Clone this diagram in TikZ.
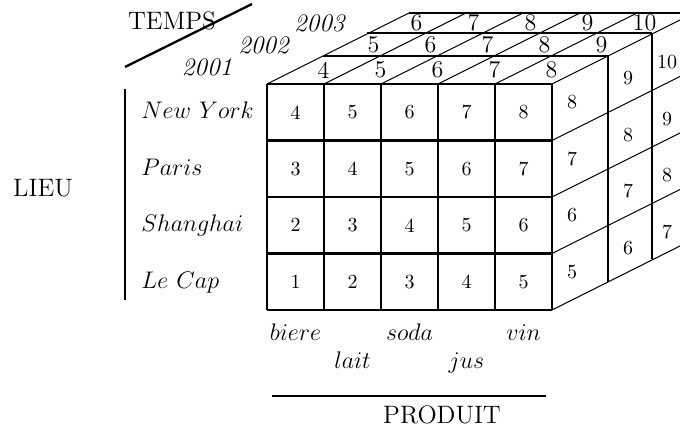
\documentclass[tikz,border=0pt]{standalone}
\usepackage{amsmath}
\usepackage{tikz}
\tikzset{thickline/.style={line width=1.15pt},
thinline/.style={line width=0.5pt},
%numbers on the faces
cellnum/.style={font=\normalsize, inner sep=0pt},
topnum/.style={font=\large, inner sep=0pt},
axistext/.style={font=\fontsize{12.6}{15}\selectfont, inner sep=0pt}}

\begin{document}
\begin{tikzpicture}[x=0.5pt,y=-0.5pt]
\clip (0,0) rectangle (680,428);
% front face
\foreach \i in {0,...,5}
     \draw[thickline] (267+57*\i,84) -- (267+57*\i,310);
\foreach \j in {0,...,4}
     \draw[thickline] (267,84+56.5*\j) -- (552,84+56.5*\j);

% back layers (top and right edges)
\foreach \dx/\dy in {56/-28,100/-51,142/-71} {
     \draw[thickline] (267+\dx,84+\dy) -- (552+\dx,84+\dy);
     \draw[thickline] (552+\dx,84+\dy) -- (552+\dx,310+\dy);
}
\foreach \i in {0,...,5}
     \draw[thinline] (267+57*\i,84) -- ++(142,-71);
\foreach \j in {1,...,4}
     \draw[thinline] (552,84+56.5*\j) -- ++(142,-71);

% values
\foreach \c in {1,...,5}
  \foreach \r in {1,...,4} {
     \pgfmathtruncatemacro{\v}{\c+4-\r}
     \node[cellnum] (f-\c-\r) at (238.5+57*\c,55.75+56.5*\r) {\v};
  }
\foreach \k/\dx/\dy in {1/28/-14,2/78/-39.5,3/121/-61}
  \foreach \c in {1,...,5} {
     \pgfmathtruncatemacro{\v}{\c+2+\k}
     \node[topnum] (t-\k-\c) at (238.5+57*\c+\dx,84+\dy) {\v};
  }
\foreach \k/\dx/\dy in {1/20/-10,2/76/-34,3/115/-50}
  \foreach \r in {1,...,4} {
     \pgfmathtruncatemacro{\v}{8+\k-\r}
     \node[cellnum] (s-\k-\r) at (552+\dx,55.75+56.5*\r+\dy) {\v};
  }

%labels
\node[axistext] (temps) at (172,21) {TEMPS};
\draw[thickline] (125,67) -- (252,4);
\node[axistext] (y1) at (207,67) {\textit{2001}};
\node[axistext] (y2) at (264,45) {\textit{2002}};
\node[axistext] (y3) at (320,23) {\textit{2003}};

\node[axistext] (lieu) at (43,188) {LIEU};
\draw[line width=1.3pt] (125,89) -- (125,300);
\foreach \r/\name in {1/New\ York,2/Paris,3/Shanghai,4/Le\ Cap}
     \node[axistext,anchor=base west] (city-\r) at (141,62+56.5*\r) {$\name$};

\foreach \c/\name/\yb in {1/biere/340,2/lait/368,3/soda/340,4/jus/368,5/vin/340}
     \node[axistext,anchor=base] (prod-\c) at (238.5+57*\c,\yb) {$\name$};
\draw[line width=1.3pt] (272,396) -- (546,396);
\node[axistext] (produit) at (442,415) {PRODUIT};
\end{tikzpicture}
\end{document}
